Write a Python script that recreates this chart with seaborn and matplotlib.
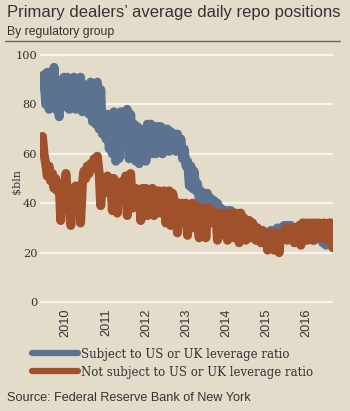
import pandas as pd
import matplotlib
matplotlib.use('Agg')
import matplotlib.pyplot as plt
from matplotlib.lines import Line2D
import seaborn as sns

# Semi-monthly readings, $bln (Jun 2009 - Sep 2016)
subject = [
    87, 92, 80, 93, 78, 92, 83, 95, 78, 90, 75, 88, 80, 91,
    79, 91, 78, 89, 80, 91, 78, 89, 80, 91, 77, 88, 79, 87, 76, 89, 73, 86, 72, 89, 70, 86, 68, 76,
    66, 76, 62, 75, 60, 77, 57, 76, 58, 77, 63, 77, 64, 78, 58, 76, 60, 72, 57, 71, 56, 70, 58, 68,
    57, 72, 61, 72, 60, 71, 60, 71, 61, 71, 60, 70, 62, 70, 61, 69, 62, 68, 61, 68, 62, 66, 58, 62,
    55, 57, 47, 55, 46, 53, 45, 48, 42, 45, 41, 44, 38, 44, 37, 42, 37, 41, 36, 40, 34, 38, 33, 37,
    35, 37, 33, 37, 34, 36, 31, 35, 31, 34, 30, 33, 28, 31, 27, 29, 27, 29, 26, 28, 26, 28, 25, 28,
    26, 28, 25, 29, 26, 29, 25, 30, 27, 30, 26, 31, 27, 31, 28, 31, 27, 30, 26, 29, 25, 30, 26, 29,
    27, 30, 26, 31, 25, 30, 27, 30, 26, 29, 24, 30, 23, 29, 24, 28, 25,
]
not_subject = [
    67, 60, 56, 51, 55, 49, 52, 46, 50, 45, 48, 33, 46, 40,
    52, 44, 46, 31, 46, 40, 47, 42, 45, 32, 48, 53, 50, 55, 52, 56, 54, 58, 55, 59, 52, 39, 50, 44,
    48, 51, 45, 50, 37, 50, 46, 36, 48, 45, 49, 47, 51, 35, 46, 52, 38, 45, 46, 40, 45, 33, 46, 44,
    46, 35, 45, 44, 46, 35, 45, 44, 45, 36, 44, 45, 32, 44, 45, 31, 44, 41, 40, 28, 40, 39, 40, 32,
    40, 27, 39, 37, 40, 30, 39, 38, 26, 38, 37, 38, 26, 37, 38, 32, 37, 35, 36, 25, 35, 34, 36, 27,
    35, 25, 36, 35, 36, 26, 36, 34, 24, 36, 33, 34, 25, 33, 33, 26, 32, 30, 25, 30, 29, 24, 29, 28,
    27, 21, 28, 27, 28, 21, 28, 27, 20, 28, 27, 29, 30, 25, 30, 29, 29, 24, 30, 28, 31, 23, 32, 31,
    32, 25, 32, 31, 32, 25, 32, 31, 32, 26, 31, 32, 31, 25, 32, 32, 22,
]
series_names = ['Subject to US or UK leverage ratio',
                'Not subject to US or UK leverage ratio']
years = [2010, 2011, 2012, 2013, 2014, 2015, 2016]
y_ticks = [0, 20, 40, 60, 80, 100]

dates = pd.date_range('2009-06-01', '2016-09-01', freq='SMS')
df = pd.DataFrame({'date': list(dates) * 2,
                   'value': subject + not_subject,
                   'group': [series_names[0]] * len(subject) + [series_names[1]] * len(not_subject)})

bg = '#e4dcca'
blue = '#5b7390'
rust = '#a0502b'
ink = '#333333'

sns.set_style('white', {'axes.facecolor': bg, 'figure.facecolor': bg})
plt.rcParams['font.family'] = ['Liberation Sans', 'DejaVu Sans']

fig = plt.figure(figsize=(3.5, 4.11), dpi=100)
ax = fig.add_axes([40 / 350, 1 - 304.5 / 411, 293 / 350, 252 / 411])

sns.lineplot(data=df, x='date', y='value', hue='group', palette=[blue, rust],
             linewidth=6.5, solid_capstyle='round', solid_joinstyle='round',
             legend=False, ax=ax)

ax.set_ylim(-1, 101)
ax.set_xlim(pd.Timestamp('2009-05-10'), pd.Timestamp('2016-09-03'))
ax.set_yticks(y_ticks)
ax.set_yticklabels([str(t) for t in y_ticks], family='DejaVu Serif', fontsize=8.2, color=ink)
ax.set_xticks([pd.Timestamp(f'{y}-01-01') for y in years])
ax.set_xticklabels([str(y) for y in years], rotation=90, fontsize=9.2, color=ink, va='top')
ax.tick_params(length=0, pad=2)
ax.tick_params(axis='x', pad=3)
ax.grid(axis='y', color='#f7f4ee', linewidth=1.6)
ax.set_axisbelow(True)
for s in ax.spines.values():
    s.set_visible(False)
ax.set_xlabel('')
ax.set_ylabel('$bln', family='DejaVu Serif', fontsize=8, color=ink)
ax.yaxis.set_label_coords(-0.062, 0.49)

fig.text(7 / 350, 1 - 12 / 411, "Primary dealers\u2019 average daily repo positions",
         fontsize=12, color=ink, va='center', ha='left')
fig.text(7 / 350, 1 - 32 / 411, 'By regulatory group', fontsize=8.8,
         color=ink, va='center', ha='left')
fig.add_artist(Line2D([5 / 350, 340 / 350], [1 - 41 / 411] * 2, color='#6e6558', lw=1))

handles = [Line2D([0], [0], color=c, lw=4.5, solid_capstyle='round') for c in [blue, rust]]
fig.legend(handles, series_names, loc='upper left', bbox_to_anchor=(21 / 350, 1 - 337 / 411),
           frameon=False, handlelength=3.9, handletextpad=0.3, labelspacing=0.42,
           prop={'family': 'DejaVu Serif', 'size': 8.5}, labelcolor=ink)

fig.text(7 / 350, 1 - 398 / 411, 'Source: Federal Reserve Bank of New York',
         fontsize=9.1, color=ink, va='center', ha='left')

fig.savefig('out.png', dpi=100)
